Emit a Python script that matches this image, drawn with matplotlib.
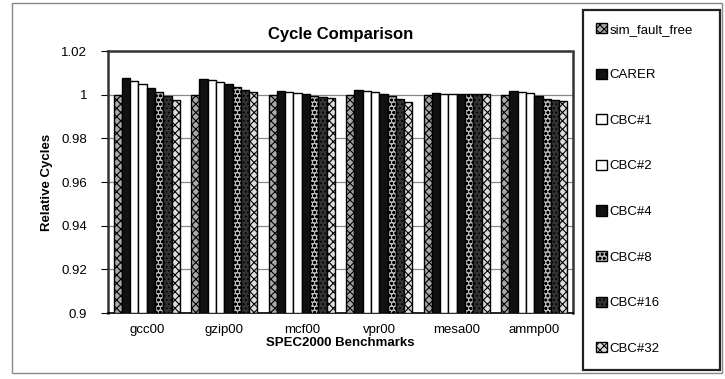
import matplotlib
matplotlib.use("Agg")
import matplotlib.pyplot as plt
from matplotlib.patches import Rectangle, Patch
import numpy as np

plt.rcParams['font.family'] = ['Liberation Sans', 'DejaVu Sans']
plt.rcParams['hatch.linewidth'] = 0.8

benchmarks = ["gcc00", "gzip00", "mcf00", "vpr00", "mesa00", "ammp00"]
series_names = ["sim_fault_free", "CARER", "CBC#1", "CBC#2", "CBC#4", "CBC#8", "CBC#16", "CBC#32"]

sim_fault_free = [1.0, 1.0, 1.0, 1.0, 1.0, 1.0]
carer = [1.0078, 1.0074, 1.0015, 1.0020, 1.0006, 1.0015]
cbc1 = [1.0062, 1.0067, 1.0011, 1.0016, 1.0005, 1.0011]
cbc2 = [1.0047, 1.0059, 1.0007, 1.0011, 1.0005, 1.0007]
cbc4 = [1.0030, 1.0048, 1.0002, 1.0004, 1.0004, 0.9992]
cbc8 = [1.0012, 1.0033, 0.9996, 0.9993, 1.0004, 0.9982]
cbc16 = [0.9993, 1.0021, 0.9990, 0.9982, 1.0003, 0.9977]
cbc32 = [0.9977, 1.0010, 0.9983, 0.9967, 1.0003, 0.9971]
series_values = [sim_fault_free, carer, cbc1, cbc2, cbc4, cbc8, cbc16, cbc32]

yticks = [0.9, 0.92, 0.94, 0.96, 0.98, 1.0, 1.02]
ytick_labels = ["0.9", "0.92", "0.94", "0.96", "0.98", "1", "1.02"]

styles = [
    dict(facecolor="#a8a8a8", hatch="xxxx", edgecolor="black"),
    dict(facecolor="#111111", hatch=None, edgecolor="black"),
    dict(facecolor="white", hatch=None, edgecolor="black"),
    dict(facecolor="white", hatch=None, edgecolor="black"),
    dict(facecolor="#111111", hatch=None, edgecolor="black"),
    dict(facecolor="#bbbbbb", hatch="oooo", edgecolor="black"),
    dict(facecolor="#333333", hatch="....", edgecolor="black"),
    dict(facecolor="#dddddd", hatch="xxxx", edgecolor="black"),
]

W, H = 725, 379
fig = plt.figure(figsize=(W / 100, H / 100), dpi=100)

# outer chart border
fig.patches.append(Rectangle((12 / W, 1 - 373 / H), (722 - 12) / W, (373 - 3) / H,
                             transform=fig.transFigure, fill=False,
                             edgecolor="#888888", linewidth=1.0))

ax = fig.add_axes([108 / W, 1 - 313 / H, (573 - 108) / W, (313 - 51) / H])

x = np.arange(len(benchmarks))
n = len(series_names)
bw = 0.107
for i, (name, vals) in enumerate(zip(series_names, series_values)):
    st = styles[i]
    ax.bar(x + (i - (n - 1) / 2) * bw, np.array(vals) - 0.9, bottom=0.9, width=bw,
           facecolor=st["facecolor"], edgecolor=st["edgecolor"], hatch=st["hatch"],
           linewidth=1.0, label=name, zorder=3)

ax.set_ylim(0.9, 1.02)
ax.set_xlim(-0.5, len(benchmarks) - 0.5)
ax.set_yticks(yticks)
ax.set_yticklabels(ytick_labels, fontsize=9.5)
ax.set_xticks(x)
ax.set_xticklabels(benchmarks, fontsize=9.5)
ax.tick_params(axis="x", length=0, pad=8)
ax.tick_params(axis="y", length=5, width=0.8, direction="out", pad=10)
ax.yaxis.grid(True, color="#888888", linewidth=0.9, zorder=0)
ax.set_axisbelow(True)

for s in ["left", "top", "right"]:
    ax.spines[s].set_linestyle((0, (1, 1)))
    ax.spines[s].set_linewidth(1.8)
    ax.spines[s].set_color("#333333")
ax.spines["bottom"].set_linewidth(1.2)
ax.spines["bottom"].set_color("black")

ax.set_title("Cycle Comparison", fontsize=12, fontweight="bold", pad=9)
ax.set_xlabel("SPEC2000 Benchmarks", fontsize=9.5, fontweight="bold", labelpad=1)
ax.set_ylabel("Relative Cycles", fontsize=9.5, fontweight="bold", labelpad=6)

# legend frame
fig.patches.append(Rectangle((583 / W, 1 - 370 / H), (720 - 583) / W, (370 - 10) / H,
                             transform=fig.transFigure, fill=True, facecolor="white",
                             edgecolor="#222222", linewidth=1.6, zorder=0))
handles = [Patch(facecolor=styles[i]["facecolor"], edgecolor="black",
                 hatch=styles[i]["hatch"], linewidth=1.0) for i in range(n)]
leg = fig.legend(handles, series_names, loc="upper left",
                 bbox_to_anchor=(596 / W, 1 - 23 / H), frameon=False,
                 fontsize=9.5, labelspacing=2.5, handlelength=0.8,
                 handleheight=0.8, handletextpad=0.25, borderpad=0,
                 borderaxespad=0)

fig.savefig("out.png", dpi=100)
